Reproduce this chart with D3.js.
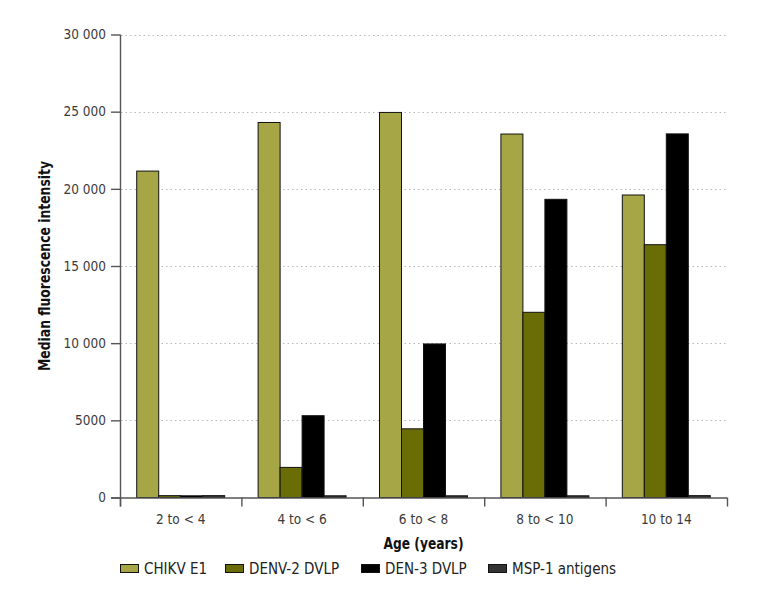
<!DOCTYPE html>
<html>
<head>
<meta charset="utf-8">
<script src="https://cdn.jsdelivr.net/npm/d3@7"></script>
<style>
  html, body { margin: 0; padding: 0; background: #fff; }
  svg { display: block; }
  text { font-family: "DejaVu Sans Condensed", "Liberation Sans Narrow", sans-serif; }
</style>
</head>
<body>
<svg id="chart" width="771" height="607"></svg>
<script>
const categories = ["2 to < 4", "4 to < 6", "6 to < 8", "8 to < 10", "10 to 14"];
const seriesNames = ["CHIKV E1", "DENV-2 DVLP", "DEN-3 DVLP", "MSP-1 antigens"];
const seriesColors = ["#a6a646", "#6a6c05", "#000000", "#333333"];
const chikv = [21150, 24300, 24950, 23550, 19600];
const denv2 = [120, 1950, 4450, 12000, 16380];
const den3  = [110, 5300, 9950, 19320, 23560];
const msp1  = [120, 110, 110, 110, 120];
const yTicks = [0, 5000, 10000, 15000, 20000, 25000, 30000];
const yTickLabels = ["0", "5000", "10 000", "15 000", "20 000", "25 000", "30 000"];
const xTitle = "Age (years)";
const yTitle = "Median fluorescence intensity";

const seriesValues = [chikv, denv2, den3, msp1];

const svg = d3.select("#chart");
const mLeft = 120, mRight = 727, mTop = 34.5, mBottom = 497.5;

const x0 = d3.scaleBand().domain(categories).range([mLeft, mRight]).paddingInner(0).paddingOuter(0);
const x1 = d3.scaleBand().domain(seriesNames).range([0, x0.bandwidth()]).paddingInner(0).paddingOuter(0.76);
const y = d3.scaleLinear().domain([0, 30000]).range([mBottom, mTop]);
const color = d3.scaleOrdinal().domain(seriesNames).range(seriesColors);

// gridlines
svg.append("g")
  .selectAll("line")
  .data(yTicks.filter(d => d > 0))
  .join("line")
  .attr("x1", mLeft + 1)
  .attr("x2", mRight)
  .attr("y1", d => Math.round(y(d)) + 0.5)
  .attr("y2", d => Math.round(y(d)) + 0.5)
  .attr("stroke", "#b8b8b8")
  .attr("stroke-width", 1)
  .attr("stroke-dasharray", "1.5,3");

// bars
const groups = svg.append("g")
  .selectAll("g")
  .data(categories)
  .join("g")
  .attr("transform", d => `translate(${x0(d)},0)`);

groups.selectAll("rect")
  .data((c, i) => seriesNames.map((s, j) => ({ s, v: seriesValues[j][i] })))
  .join("rect")
  .attr("x", d => x1(d.s))
  .attr("width", x1.bandwidth())
  .attr("y", d => y(d.v))
  .attr("height", d => y(0) - y(d.v))
  .attr("fill", d => color(d.s))
  .attr("stroke", "#111")
  .attr("stroke-width", 1);

// y axis
const yAxis = d3.axisLeft(y)
  .tickValues(yTicks)
  .tickFormat((d, i) => yTickLabels[i])
  .tickSize(9)
  .tickPadding(5);
const gy = svg.append("g")
  .attr("transform", `translate(${mLeft},0)`)
  .call(yAxis);
gy.select(".domain").attr("d", `M0.5,${mTop}V${mBottom + 9}`).attr("stroke", "#555").attr("stroke-width", 1.4);
gy.selectAll(".tick line").attr("stroke", "#555").attr("stroke-width", 1.4);
gy.selectAll(".tick text").attr("font-size", 13.5).attr("fill", "#3a3a3a")
  .attr("font-family", '"DejaVu Sans Condensed", sans-serif');

// x axis
const xAxis = d3.axisBottom(x0).tickSize(0).tickPadding(17);
const gx = svg.append("g")
  .attr("transform", `translate(0,${mBottom})`)
  .call(xAxis);
gx.select(".domain").attr("d", `M${mLeft - 9},0.5H${mRight}`).attr("stroke", "#555").attr("stroke-width", 1.4);
gx.selectAll(".tick text").attr("font-size", 13.5).attr("fill", "#3a3a3a")
  .attr("font-family", '"DejaVu Sans Condensed", sans-serif');
// boundary ticks
const bounds = categories.map(c => x0(c)).concat([x0(categories[categories.length - 1]) + x0.bandwidth()]);
gx.append("g").selectAll("line")
  .data(bounds)
  .join("line")
  .attr("x1", d => d + 0.5).attr("x2", d => d + 0.5)
  .attr("y1", 0).attr("y2", 9)
  .attr("stroke", "#555").attr("stroke-width", 1.4);

// axis titles
svg.append("text")
  .attr("x", (mLeft + mRight) / 2)
  .attr("y", 549)
  .attr("text-anchor", "middle")
  .attr("font-size", 15.5)
  .attr("font-weight", "bold")
  .attr("fill", "#111")
  .attr("textLength", 80)
  .attr("lengthAdjust", "spacingAndGlyphs")
  .text(xTitle);

svg.append("text")
  .attr("transform", `translate(50,${(mTop + mBottom) / 2}) rotate(-90)`)
  .attr("text-anchor", "middle")
  .attr("font-size", 15.5)
  .attr("font-weight", "bold")
  .attr("fill", "#111")
  .attr("textLength", 210)
  .attr("lengthAdjust", "spacingAndGlyphs")
  .text(yTitle);

// legend
const legendX = [120, 225, 361, 488];
const leg = svg.append("g").selectAll("g")
  .data(seriesNames)
  .join("g")
  .attr("transform", (d, i) => `translate(${legendX[i]},564)`);
leg.append("rect")
  .attr("x", 0.5).attr("y", 0.5)
  .attr("width", 18).attr("height", 8)
  .attr("fill", d => color(d))
  .attr("stroke", "#111").attr("stroke-width", 1);
leg.append("text")
  .attr("x", 24)
  .attr("y", 4.5)
  .attr("dy", "0.35em")
  .attr("font-size", 15)
  .attr("fill", "#222")
  .text(d => d);
</script>
</body>
</html>
